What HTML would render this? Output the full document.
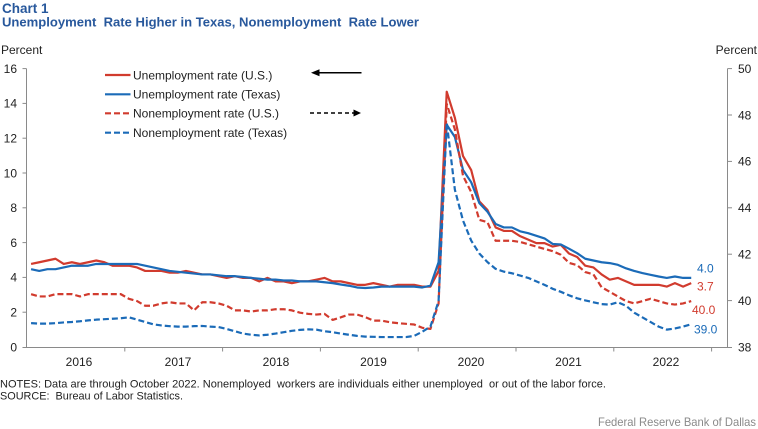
<!DOCTYPE html>
<html>
<head>
<meta charset="utf-8">
<style>
html,body{margin:0;padding:0;background:#fff;width:758px;height:429px;overflow:hidden}
svg{display:block}
text{font-family:"Liberation Sans",Arial,sans-serif;}
</style>
</head>
<body>
<svg id="c" width="758" height="429" viewBox="0 0 758 429" xmlns="http://www.w3.org/2000/svg">
  <rect width="758" height="429" fill="#fff"/>
  <!-- Title -->
  <text x="2" y="13" font-size="13.5" font-weight="bold" fill="#28589c">Chart 1</text>
  <text x="2" y="26.5" font-size="13" font-weight="bold" fill="#28589c" style="white-space:pre" textLength="417" lengthAdjust="spacingAndGlyphs">Unemployment  Rate Higher in Texas, Nonemployment  Rate Lower</text>

  <!-- Axis titles -->
  <text x="1" y="54" font-size="12" fill="#222">Percent</text>
  <text x="757" y="54" font-size="12" fill="#222" text-anchor="end">Percent</text>

  <!-- Axes -->
  <g stroke="#8a8a8a" stroke-width="1" fill="none">
    <line x1="26.5" y1="68.6" x2="26.5" y2="347.5"/>
    <line x1="727.5" y1="68.6" x2="727.5" y2="347.5"/>
    <line x1="26.5" y1="347.5" x2="727.5" y2="347.5"/>
    <!-- left ticks -->
    <line x1="22.5" y1="68.6" x2="26.5" y2="68.6"/>
    <line x1="22.5" y1="103.4" x2="26.5" y2="103.4"/>
    <line x1="22.5" y1="138.2" x2="26.5" y2="138.2"/>
    <line x1="22.5" y1="173" x2="26.5" y2="173"/>
    <line x1="22.5" y1="207.8" x2="26.5" y2="207.8"/>
    <line x1="22.5" y1="242.6" x2="26.5" y2="242.6"/>
    <line x1="22.5" y1="277.4" x2="26.5" y2="277.4"/>
    <line x1="22.5" y1="312.2" x2="26.5" y2="312.2"/>
    <line x1="22.5" y1="347.5" x2="26.5" y2="347.5"/>
    <!-- right ticks -->
    <line x1="727.5" y1="68.6" x2="732" y2="68.6"/>
    <line x1="727.5" y1="115" x2="732" y2="115"/>
    <line x1="727.5" y1="161.4" x2="732" y2="161.4"/>
    <line x1="727.5" y1="207.8" x2="732" y2="207.8"/>
    <line x1="727.5" y1="254.2" x2="732" y2="254.2"/>
    <line x1="727.5" y1="300.6" x2="732" y2="300.6"/>
    <line x1="727.5" y1="347.5" x2="732" y2="347.5"/>
    <!-- bottom ticks -->
    <line x1="124.8" y1="347.5" x2="124.8" y2="351.5"/>
    <line x1="222.6" y1="347.5" x2="222.6" y2="351.5"/>
    <line x1="320.4" y1="347.5" x2="320.4" y2="351.5"/>
    <line x1="418.2" y1="347.5" x2="418.2" y2="351.5"/>
    <line x1="516" y1="347.5" x2="516" y2="351.5"/>
    <line x1="613.8" y1="347.5" x2="613.8" y2="351.5"/>
    <line x1="711.6" y1="347.5" x2="711.6" y2="351.5"/>
  </g>

  <!-- Left labels -->
  <g font-size="12" fill="#222" text-anchor="end">
    <text x="17" y="72.9">16</text>
    <text x="17" y="107.7">14</text>
    <text x="17" y="142.5">12</text>
    <text x="17" y="177.3">10</text>
    <text x="17" y="212.1">8</text>
    <text x="17" y="246.9">6</text>
    <text x="17" y="281.7">4</text>
    <text x="17" y="316.5">2</text>
    <text x="17" y="351.5">0</text>
  </g>
  <!-- Right labels -->
  <g font-size="12" fill="#222">
    <text x="738" y="72.9">50</text>
    <text x="738" y="119.3">48</text>
    <text x="738" y="165.7">46</text>
    <text x="738" y="212.1">44</text>
    <text x="738" y="258.5">42</text>
    <text x="738" y="304.9">40</text>
    <text x="738" y="351.5">38</text>
  </g>
  <!-- Year labels -->
  <g font-size="12" fill="#222" text-anchor="middle">
    <text x="79" y="366">2016</text>
    <text x="178" y="366">2017</text>
    <text x="276" y="366">2018</text>
    <text x="373.5" y="366">2019</text>
    <text x="471" y="366">2020</text>
    <text x="568.5" y="366">2021</text>
    <text x="666" y="366">2022</text>
  </g>

  <!-- Legend -->
  <g stroke-width="2.2" fill="none">
    <line x1="105" y1="75" x2="130.5" y2="75" stroke="#d13b2e"/>
    <line x1="105" y1="94.3" x2="130.5" y2="94.3" stroke="#1b6bb8"/>
    <line x1="105" y1="113.3" x2="130.5" y2="113.3" stroke="#d13b2e" stroke-dasharray="6,3"/>
    <line x1="105" y1="132.7" x2="130.5" y2="132.7" stroke="#1b6bb8" stroke-dasharray="6,3"/>
  </g>
  <g font-size="12" fill="#222">
    <text x="133" y="79.3">Unemployment rate (U.S.)</text>
    <text x="133" y="98.6">Unemployment rate (Texas)</text>
    <text x="133" y="117.6">Nonemployment rate (U.S.)</text>
    <text x="133" y="137">Nonemployment rate (Texas)</text>
  </g>
  <!-- Arrows -->
  <line x1="318" y1="72.7" x2="361.5" y2="72.7" stroke="#000" stroke-width="1.5"/>
  <polygon points="311,72.7 319.5,69.2 319.5,76.2" fill="#000"/>
  <line x1="310" y1="113" x2="354" y2="113" stroke="#000" stroke-width="1.5" stroke-dasharray="4,3"/>
  <polygon points="361,113 353.5,109.5 353.5,116.5" fill="#000"/>

  <!-- Series -->
  <g id="series" fill="none" stroke-width="2.2" stroke-linejoin="round"></g>

  <!-- End labels -->
  <g font-size="12">
    <text x="697" y="272.5" fill="#1b6bb8">4.0</text>
    <text x="697" y="290.5" fill="#d13b2e">3.7</text>
    <text x="692" y="314" fill="#d13b2e">40.0</text>
    <text x="694" y="333.5" fill="#1b6bb8">39.0</text>
  </g>

  <!-- Notes -->
  <text x="0" y="387.5" font-size="11" fill="#222" style="white-space:pre" textLength="606" lengthAdjust="spacingAndGlyphs">NOTES: Data are through October 2022. Nonemployed  workers are individuals either unemployed  or out of the labor force.</text>
  <text x="0" y="399.5" font-size="11" fill="#222" style="white-space:pre" textLength="183" lengthAdjust="spacingAndGlyphs">SOURCE:  Bureau of Labor Statistics.</text>
  <text x="598" y="426" font-size="12" fill="#8a8a8a" textLength="158" lengthAdjust="spacingAndGlyphs">Federal Reserve Bank of Dallas</text>
</svg>
<script>
(function(){
  var X0=27, MW=8.15;
  function x(i){return X0+(i+0.5)*MW;}
  function yl(v){return 347.5-v*17.4;}
  function yr(v){return 347.5-(v-38)*23.2;}
  var usU=[4.8,4.9,5.0,5.1,4.8,4.9,4.8,4.9,5.0,4.9,4.7,4.7,
  4.7,4.6,4.4,4.4,4.4,4.3,4.3,4.4,4.3,4.2,4.2,4.1,
  4.0,4.1,4.0,4.0,3.8,4.0,3.8,3.8,3.7,3.8,3.8,3.9,
  4.0,3.8,3.8,3.7,3.6,3.6,3.7,3.6,3.5,3.6,3.6,3.6,
  3.5,3.5,4.4,14.7,13.2,11.0,10.2,8.4,7.9,6.9,6.7,6.7,
  6.4,6.2,6.0,6.0,5.8,5.9,5.4,5.2,4.7,4.6,4.2,3.9,
  4.0,3.8,3.6,3.6,3.6,3.6,3.5,3.7,3.5,3.7];
  var txU=[4.5,4.4,4.5,4.5,4.6,4.7,4.7,4.7,4.8,4.8,4.8,4.8,
  4.8,4.8,4.7,4.6,4.5,4.4,4.35,4.3,4.25,4.2,4.2,4.15,
  4.1,4.1,4.05,4.0,3.95,3.9,3.9,3.85,3.85,3.8,3.8,3.8,
  3.75,3.7,3.62,3.55,3.45,3.42,3.45,3.5,3.5,3.5,3.5,3.5,
  3.45,3.55,4.9,12.8,12.1,10.2,9.5,8.3,7.8,7.1,6.9,6.9,
  6.68,6.57,6.42,6.27,5.95,5.92,5.68,5.42,5.1,5.0,4.9,4.85,
  4.75,4.55,4.4,4.28,4.18,4.08,4.0,4.08,4.0,4.0];
  var usN=[40.3,40.2,40.2,40.3,40.3,40.3,40.2,40.3,40.3,40.3,40.3,40.3,
  40.1,40.0,39.8,39.8,39.9,39.95,39.9,39.9,39.6,39.95,39.95,39.9,
  39.8,39.6,39.6,39.55,39.6,39.6,39.65,39.65,39.6,39.5,39.45,39.42,
  39.45,39.19,39.3,39.42,39.42,39.31,39.16,39.16,39.09,39.05,39.02,38.99,
  38.85,38.8,39.9,48.5,47.4,45.4,44.7,43.5,43.4,42.6,42.6,42.6,
  42.55,42.45,42.35,42.25,42.15,42.0,41.65,41.55,41.25,41.15,40.6,40.4,
  40.2,40.0,39.9,40.0,40.1,40.0,39.9,39.85,39.9,40.0];
  var txN=[39.05,39.03,39.03,39.05,39.08,39.1,39.13,39.17,39.2,39.22,39.24,39.26,
  39.3,39.2,39.1,39.0,38.95,38.92,38.9,38.9,38.92,38.93,38.9,38.88,
  38.8,38.7,38.6,38.55,38.52,38.55,38.6,38.66,38.72,38.76,38.78,38.77,
  38.7,38.66,38.6,38.55,38.5,38.47,38.46,38.45,38.45,38.45,38.45,38.5,
  38.68,38.9,40.0,47.7,44.8,43.47,42.61,42.05,41.68,41.39,41.27,41.2,
  41.1,41.0,40.85,40.7,40.53,40.4,40.25,40.12,40.03,39.95,39.87,39.85,
  39.95,39.8,39.5,39.3,39.1,38.9,38.77,38.82,38.9,39.0];
  function path(arr,fy){
    var d='';
    for(var i=0;i<arr.length;i++){d+=(i?'L':'M')+x(i).toFixed(2)+' '+fy(arr[i]).toFixed(2);}
    return d;
  }
  var g=document.getElementById('series');
  var NS='http://www.w3.org/2000/svg';
  function add(d,color,dash){
    var p=document.createElementNS(NS,'path');
    p.setAttribute('d',d);p.setAttribute('stroke',color);
    if(dash)p.setAttribute('stroke-dasharray',dash);
    g.appendChild(p);
  }
  add(path(usU,yl),'#d13b2e');
  add(path(txU,yl),'#1b6bb8');
  add(path(usN,yr),'#d13b2e','6,3');
  add(path(txN,yr),'#1b6bb8','6,3');
})();
</script>
</body>
</html>
